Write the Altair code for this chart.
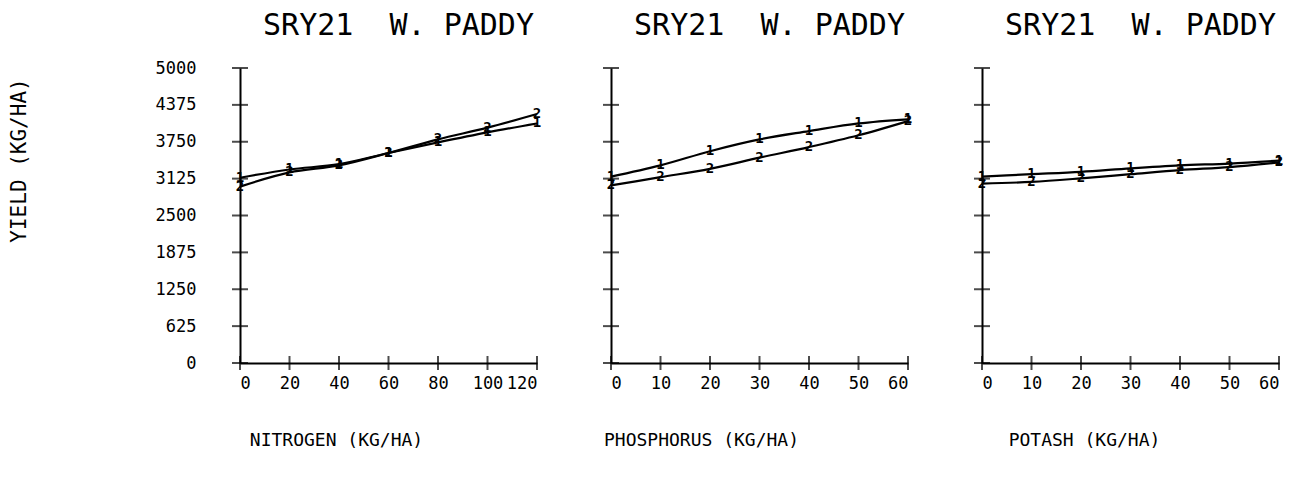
import altair as alt
import pandas as pd

# Fertilizer response of SRY21 rice, West paddy: two series per nutrient
nitrogen_rates = [0, 20, 40, 60, 80, 100, 120]
nitrogen_s1 = [3140, 3280, 3370, 3560, 3740, 3910, 4060]
nitrogen_s2 = [2990, 3230, 3350, 3560, 3790, 3990, 4220]

phosphorus_rates = [0, 10, 20, 30, 40, 50, 60]
phosphorus_s1 = [3160, 3350, 3590, 3790, 3930, 4060, 4130]
phosphorus_s2 = [3010, 3150, 3290, 3480, 3660, 3860, 4100]

potash_rates = [0, 10, 20, 30, 40, 50, 60]
potash_s1 = [3160, 3200, 3240, 3300, 3350, 3380, 3430]
potash_s2 = [3040, 3070, 3130, 3200, 3270, 3320, 3400]

yield_ticks = [0, 625, 1250, 1875, 2500, 3125, 3750, 4375, 5000]
# non-breaking spaces keep the wide gap between the words in SVG
panel_title = "SRY21\u00a0\u00a0W.\u00a0PADDY"

FONT = "DejaVu Sans Mono"
PANEL_W = 297
PANEL_H = 295


def panel(rates, s1, s2, x_title, x_title_pos, first):
    df = pd.DataFrame({
        "rate": rates + rates,
        "yield": s1 + s2,
        "series": ["1"] * len(rates) + ["2"] * len(rates),
        "shift": [-3] * len(rates) + [3] * len(rates),
    })
    xscale = alt.Scale(domain=[0, max(rates)], nice=False, zero=True)
    yscale = alt.Scale(domain=[0, 5000], nice=False)

    xaxis = alt.Axis(
        values=rates, ticks=False, grid=False, format="d",
        labelPadding=12, labelFontSize=17, labelOverlap=False,
        title=x_title, titleX=x_title_pos, titleY=77,
        titleAlign="center", titleBaseline="middle",
    )
    if first:
        yaxis = alt.Axis(
            values=yield_ticks, ticks=False, grid=False, format="d",
            labelPadding=44, labelFontSize=17, labelOverlap=False,
            title="YIELD (KG/HA)", titleX=-221, titleY=92, titleAngle=270,
            titleAlign="center", titleBaseline="middle", titleFontSize=21,
        )
    else:
        yaxis = alt.Axis(values=yield_ticks, ticks=False, grid=False,
                         labels=False, title=None)

    # every layer carries the same axis definitions so they merge cleanly
    lines = alt.Chart(df).mark_line(
        color="black", strokeWidth=2.2, interpolate="monotone"
    ).encode(
        x=alt.X("rate:Q", scale=xscale, axis=xaxis),
        y=alt.Y("yield:Q", scale=yscale, axis=yaxis),
        detail="series:N",
    )

    digits = alt.Chart(df).mark_text(
        font=FONT, fontSize=14, fontWeight="bold", color="black"
    ).encode(
        x=alt.X("rate:Q", scale=xscale, axis=xaxis),
        y=alt.Y("yield:Q", scale=yscale, axis=yaxis),
        yOffset=alt.YOffset("shift:Q", scale=None),
        text="series:N",
    )

    # cross ticks straddling both axis lines
    yticks = alt.Chart(pd.DataFrame({"rate": [0] * len(yield_ticks),
                                     "yield": yield_ticks})).mark_tick(
        orient="horizontal", size=16, thickness=2, color="black"
    ).encode(
        x=alt.X("rate:Q", scale=xscale, axis=xaxis),
        y=alt.Y("yield:Q", scale=yscale, axis=yaxis),
    )
    xticks = alt.Chart(pd.DataFrame({"rate": rates,
                                     "yield": [0] * len(rates)})).mark_tick(
        orient="vertical", size=14, thickness=2, color="black"
    ).encode(
        x=alt.X("rate:Q", scale=xscale, axis=xaxis),
        y=alt.Y("yield:Q", scale=yscale, axis=yaxis),
    )

    return alt.layer(lines, yticks, xticks, digits).properties(
        width=PANEL_W, height=PANEL_H,
        title=alt.Title(panel_title, dx=10, offset=18 if first else 26),
    )


p1 = panel(nitrogen_rates, nitrogen_s1, nitrogen_s2,
           "NITROGEN (KG/HA)", 96, True)
p2 = panel(phosphorus_rates, phosphorus_s1, phosphorus_s2,
           "PHOSPHORUS (KG/HA)", 90, False)
p3 = panel(potash_rates, potash_s1, potash_s2,
           "POTASH (KG/HA)", 102, False)

chart = alt.hconcat(p1, p2, p3, spacing=74, bounds="flush").properties(
    padding={"left": 8, "top": 11, "right": 0, "bottom": 0},
    background="white",
).configure_view(
    stroke=None
).configure_axis(
    domainColor="black", domainWidth=2,
    labelColor="black", labelFont=FONT, labelOverlap=False,
    titleColor="black", titleFont=FONT, titleFontWeight="normal",
    titleFontSize=18,
).configure_title(
    font=FONT, fontSize=30, fontWeight="normal", color="black",
    anchor="middle",
)

chart.save("out.html", embed_options={"renderer": "svg", "actions": False})
